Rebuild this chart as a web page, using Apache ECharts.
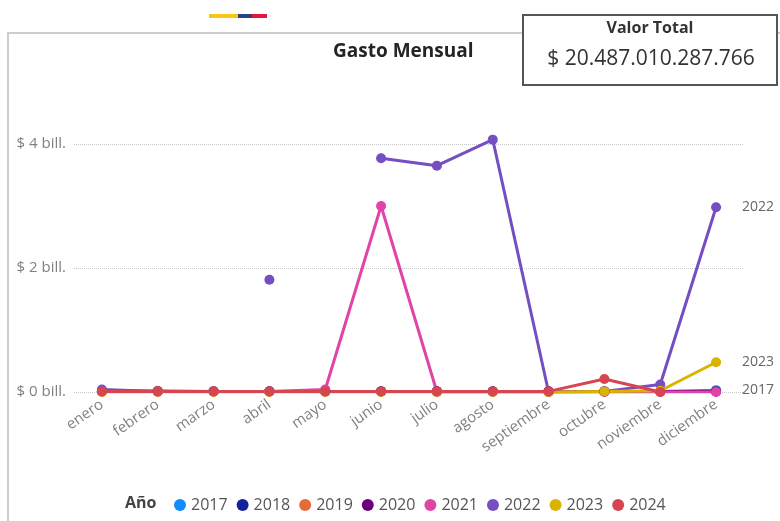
<!DOCTYPE html>
<html>
<head>
<meta charset="utf-8">
<script src="https://cdn.jsdelivr.net/npm/echarts@6/dist/echarts.min.js"></script>
<style>
    html, body { margin: 0; padding: 0; background: #fff; }
    #main { width: 780px; height: 521px; }
</style>
</head>
<body>
<div id="main"></div>
<script>
// meses y valores en billones de pesos
var meses = ['enero', 'febrero', 'marzo', 'abril', 'mayo', 'junio', 'julio', 'agosto', 'septiembre', 'octubre', 'noviembre', 'diciembre'];
var anios = ['2017', '2018', '2019', '2020', '2021', '2022', '2023', '2024'];
var colores = ['#118DFF', '#12239E', '#E66C37', '#6B007B', '#E044A7', '#744EC2', '#D9B300', '#D64550'];

var v2017 = [0.01, 0.01, 0.01, 0.01, 0.01, 0.01, 0.01, 0.01, 0.01, 0.01, 0.01, 0.03];
var v2018 = [0.01, 0.01, 0.01, 0.01, 0.01, 0.01, 0.01, 0.01, 0.01, 0.01, 0.01, 0.01];
var v2019 = [0.02, 0.02, 0.01, 0.01, 0.01, 0.01, 0.01, 0.01, 0.01, 0.01, 0.01, 0.01];
var v2020 = [0.01, 0.01, 0.01, 0.01, 0.01, 0.01, 0.01, 0.01, 0.01, 0.01, 0.01, 0.01];
var v2021 = [0.01, 0.01, 0.01, 0.01, 0.04, 3.0, 0.0, 0.0, 0.0, 0.0, 0.0, 0.0];
var v2022 = [0.04, 0.01, null, 1.81, null, 3.77, 3.65, 4.07, 0.0, 0.01, 0.12, 2.98];
var v2023 = [0.0, 0.0, 0.0, 0.0, 0.0, 0.0, 0.0, 0.0, 0.0, 0.01, 0.02, 0.48];
var v2024 = [0.01, 0.01, 0.01, 0.01, 0.01, 0.01, 0.01, 0.01, 0.01, 0.21, 0.0, null];

var valores = [v2017, v2018, v2019, v2020, v2021, v2022, v2023, v2024];
var conEtiqueta = ['2017', '2022', '2023'];

var myChart = echarts.init(document.getElementById('main'));

var series = anios.map(function (a, i) {
    return {
        name: a,
        type: 'line',
        data: valores[i],
        symbol: 'circle',
        symbolSize: 10,
        color: colores[i],
        lineStyle: { width: 3 },
        emphasis: { disabled: true },
        endLabel: {
            show: conEtiqueta.indexOf(a) >= 0,
            formatter: a,
            distance: 26,
            color: '#666',
            fontSize: 14,
            fontFamily: 'Open Sans'
        }
    };
});

myChart.setOption({
    animation: false,
    textStyle: { fontFamily: 'Open Sans' },
    title: {
        text: 'Gasto Mensual',
        left: 328,
        top: 37,
        textStyle: { fontSize: 19, fontWeight: 'bold', color: '#252423' }
    },
    legend: {
        left: 169,
        top: 492,
        icon: 'circle',
        itemWidth: 12,
        itemHeight: 12,
        itemGap: 9,
        textStyle: { fontSize: 16, color: '#555' },
        data: anios
    },
    grid: {
        left: 74,
        right: 36,
        top: 82,
        bottom: 129
    },
    xAxis: {
        type: 'category',
        data: meses,
        boundaryGap: true,
        axisLine: { show: false },
        axisTick: { show: false },
        axisLabel: {
            interval: 0,
            rotate: 35,
            margin: 11,
            color: '#808080',
            fontSize: 15
        }
    },
    yAxis: {
        type: 'value',
        min: 0,
        max: 5,
        interval: 2,
        axisLabel: {
            showMaxLabel: false,
            margin: 8,
            color: '#808080',
            fontSize: 15,
            formatter: function (v) { return '$ ' + v + ' bill.'; }
        },
        splitLine: {
            showMaxLine: false,
            lineStyle: { type: 'dotted', color: '#c8c8c8', width: 1 }
        }
    },
    graphic: [
        {
            type: 'rect',
            z: -1,
            shape: { x: 8, y: 33, width: 800, height: 600 },
            style: { fill: 'none', stroke: '#cccccc', lineWidth: 2 }
        },
        { type: 'rect', shape: { x: 209, y: 14, width: 29, height: 4 }, style: { fill: '#F9C80E' } },
        { type: 'rect', shape: { x: 238, y: 14, width: 14, height: 4 }, style: { fill: '#2E3F8F' } },
        { type: 'rect', shape: { x: 252, y: 14, width: 15, height: 4 }, style: { fill: '#E3193B' } },
        {
            type: 'rect',
            z: 10,
            shape: { x: 523, y: 15, width: 254, height: 70 },
            style: { fill: '#fff', stroke: '#555', lineWidth: 2 }
        },
        {
            type: 'text',
            z: 11,
            x: 650, y: 28,
            style: {
                text: 'Valor Total', fill: '#333', font: 'bold 16px "Open Sans"',
                textAlign: 'center', textVerticalAlign: 'middle'
            }
        },
        {
            type: 'text',
            z: 11,
            x: 651, y: 59,
            style: {
                text: '$ 20.487.010.287.766', fill: '#333', font: '21px "Open Sans"',
                textAlign: 'center', textVerticalAlign: 'middle'
            }
        },
        {
            type: 'text',
            x: 125, y: 503,
            style: {
                text: 'Año', fill: '#444', font: 'bold 16px "Open Sans"',
                textVerticalAlign: 'middle'
            }
        }
    ],
    series: series
});
</script>
</body>
</html>
